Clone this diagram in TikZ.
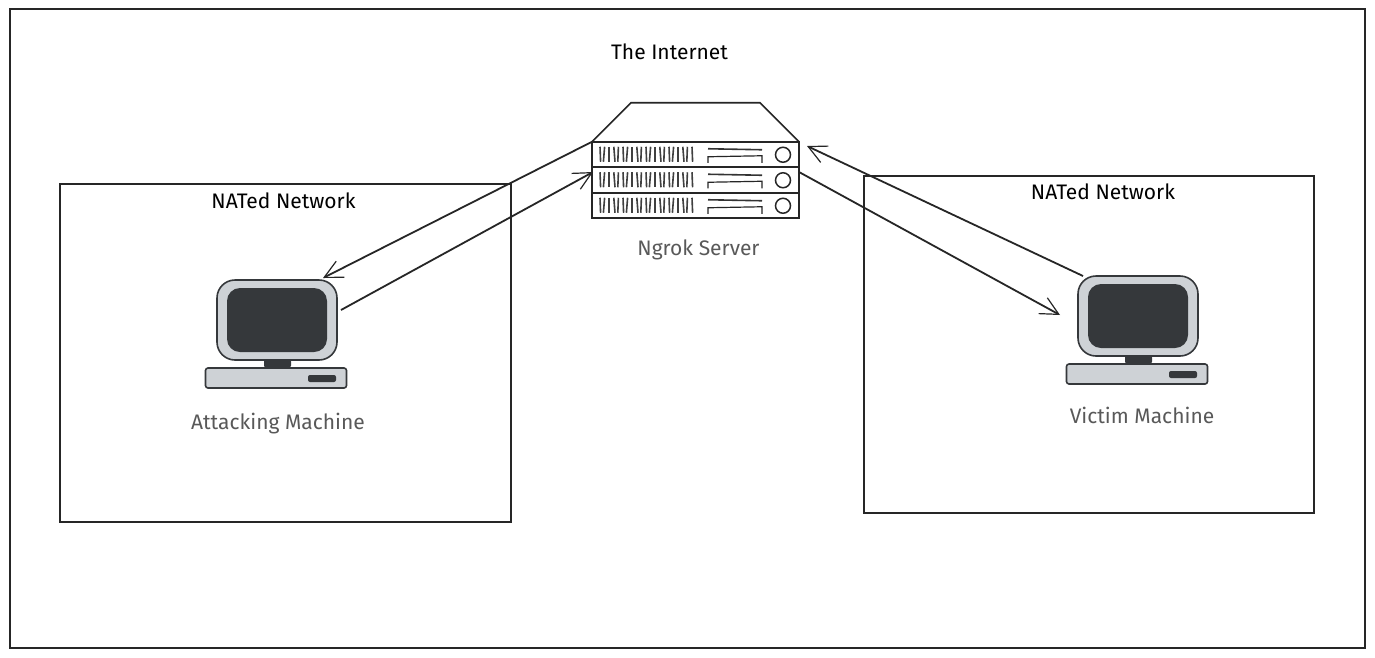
\documentclass[tikz,border=0pt]{standalone}
\usepackage{fontspec}
\setmainfont{Fira Sans}
\usetikzlibrary{positioning, arrows.meta}
\definecolor{sketchdark}{HTML}{35383B}
\definecolor{sketchgrey}{HTML}{CED2D6}
\definecolor{labelgrey}{HTML}{595959}
\tikzset{
        box/.style={draw=black!85, line width=1.2pt, inner sep=0pt, outer sep=0pt},
        srvrow/.style={box, line width=1.7pt, minimum width=207pt, minimum height=25.5pt},
        txt/.style={font=\fontsize{21}{24}\selectfont, inner sep=0pt, text=black},
        greytxt/.style={txt, text=labelgrey},
        link/.style={line width=1.8pt, black!85, -{Straight Barb[length=18pt, width=18pt, line width=1.2pt]}},
        computer/.pic={
                \node[draw=sketchdark, fill=sketchgrey, line width=1.6pt, rounded corners=18pt, minimum width=120pt, minimum height=80pt, inner sep=0pt] (-mon) at (0,0) {};
                \node[fill=sketchdark, rounded corners=13pt, minimum width=100pt, minimum height=64pt, inner sep=0pt] (-screen) at (0,0) {};
                \node[fill=sketchdark, rounded corners=2pt, minimum width=27pt, minimum height=8pt, inner sep=0pt] (-neck) at (0.5,43.5) {};
                \node[draw=sketchdark, fill=sketchgrey, line width=1.6pt, rounded corners=2.5pt, minimum width=141pt, minimum height=20pt, inner sep=0pt] (-base) at (-1,58) {};
                \node[fill=sketchdark, rounded corners=2pt, minimum width=28pt, minimum height=7pt, inner sep=0pt] (-btn) at (45,58.5) {};
        }
}
\begin{document}
\begin{tikzpicture}[x=1pt, y=-1pt]
        \useasboundingbox[fill=white] (0,0) rectangle (1375,657);
        \node[box, minimum width=1355pt, minimum height=639pt] (frame) at (687.5,328.5) {};
        \node[box, minimum width=451pt, minimum height=338pt] (leftnet) at (285.5,353) {};
        \node[box, minimum width=450pt, minimum height=337pt] (rightnet) at (1089,344.5) {};
        \node[txt, below=9pt of leftnet.north, xshift=-2pt] (leftlabel) {NATed Network};
        \node[txt, below=8pt of rightnet.north, xshift=14pt] (rightlabel) {NATed Network};

        \node[srvrow] (srvA) at (695.5,154.5) {};
        \node[srvrow, below=0pt of srvA] (srvB) {};
        \node[srvrow, below=0pt of srvB] (srvC) {};
        \draw[line width=1.7pt, black!85] (srvA.north west) -- ++(39,-39) -- ++(129,0) -- (srvA.north east);
        \foreach \row in {srvA,srvB,srvC} {
                \foreach \i in {0,...,20} {
                        \pgfmathsetmacro{\lean}{mod(\i*7+3,5)-2}
                        \draw[line width=1.6pt, black!75] ([shift={(8+4.6*\i,5)}]\row.north west) -- ++(\lean*0.6,15);
                }
                \draw[line width=1.6pt, black!80] ([shift={(116,7)}]\row.north west) -- ++(54,1);
                \draw[line width=1.2pt, black!85] ([shift={(116,21)}]\row.north west) -- ++(0,-6) -- ++(54,-1) -- ++(0,7);
                \draw[line width=1.5pt, black!85] ([shift={(191,13)}]\row.north west) circle[radius=7.5pt];
        }
        \node[txt, above=82pt of srvA.north, xshift=-26pt] (inetlabel) {The Internet};
        \node[greytxt, below=21pt of srvC.south, xshift=3pt] (srvlabel) {Ngrok Server};

        \pic (atk) at (277,320) {computer};
        \pic (vic) at (1138,316) {computer};
        \node[greytxt, below=24pt of atk-base, xshift=2pt] (atklabel) {Attacking Machine};
        \node[greytxt, below=22pt of vic-base, xshift=5pt] (viclabel) {Victim Machine};

        \coordinate (atkin) at (323,278);
        \coordinate (atkout) at (341,310);
        \coordinate (srvinA) at (593,172);
        \coordinate (srvinB) at (807,146);
        \coordinate (srvout) at (799,172);
        \coordinate (vicin) at (1060,315);
        \coordinate (vicout) at (1083,276);
        \draw[link] (srvA.north west) -- (atkin);
        \draw[link] (atkout) -- (srvinA);
        \draw[link] (vicout) -- (srvinB);
        \draw[link] (srvout) -- (vicin);
\end{tikzpicture}
\end{document}
